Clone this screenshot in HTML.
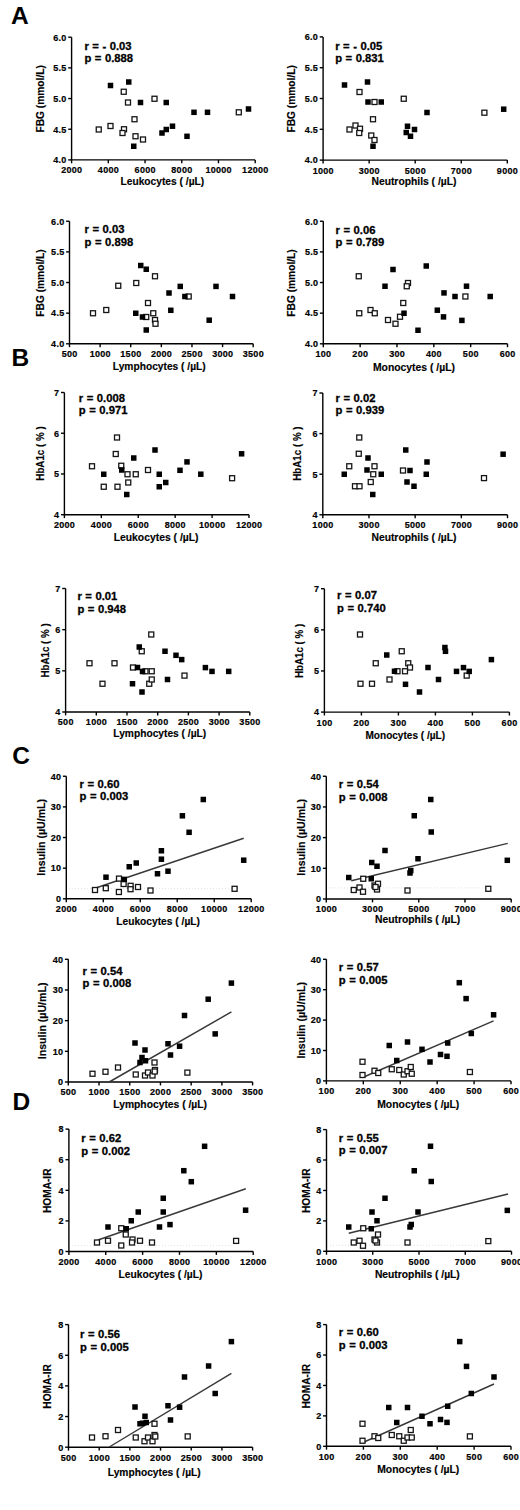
<!DOCTYPE html>
<html><head><meta charset="utf-8"><style>
html,body{margin:0;padding:0;background:#fff;width:520px;height:1510px;overflow:hidden}
svg{display:block}
text{font-family:"Liberation Sans",sans-serif;font-weight:bold;fill:#000}
.t{font-size:9.4px;letter-spacing:0.3px;stroke:#000;stroke-width:0.2px}
.ti{font-size:10.3px;stroke:#000;stroke-width:0.15px}
.r{font-size:11.25px;word-spacing:0.4px;stroke:#000;stroke-width:0.3px}
.L{font-size:24.5px}
</style></head><body>
<svg width="520" height="1510" viewBox="0 0 520 1510">
<g><path d="M71.6 37.2V159.9H255.2" fill="none" stroke="#000" stroke-width="1.4"/><line x1="68.2" y1="159.9" x2="71.6" y2="159.9" stroke="#000" stroke-width="1.4"/><text transform="translate(66.6,163.2) scale(0.96,1)" class="t" text-anchor="end">4.0</text><line x1="68.2" y1="129.22" x2="71.6" y2="129.22" stroke="#000" stroke-width="1.4"/><text transform="translate(66.6,132.53) scale(0.96,1)" class="t" text-anchor="end">4.5</text><line x1="68.2" y1="98.55" x2="71.6" y2="98.55" stroke="#000" stroke-width="1.4"/><text transform="translate(66.6,101.85) scale(0.96,1)" class="t" text-anchor="end">5.0</text><line x1="68.2" y1="67.88" x2="71.6" y2="67.88" stroke="#000" stroke-width="1.4"/><text transform="translate(66.6,71.17) scale(0.96,1)" class="t" text-anchor="end">5.5</text><line x1="68.2" y1="37.2" x2="71.6" y2="37.2" stroke="#000" stroke-width="1.4"/><text transform="translate(66.6,40.5) scale(0.96,1)" class="t" text-anchor="end">6.0</text><line x1="71.6" y1="159.9" x2="71.6" y2="163.3" stroke="#000" stroke-width="1.4"/><text transform="translate(71.75,173.3) scale(0.96,1)" class="t" text-anchor="middle">2000</text><line x1="108.32" y1="159.9" x2="108.32" y2="163.3" stroke="#000" stroke-width="1.4"/><text transform="translate(108.47,173.3) scale(0.96,1)" class="t" text-anchor="middle">4000</text><line x1="145.04" y1="159.9" x2="145.04" y2="163.3" stroke="#000" stroke-width="1.4"/><text transform="translate(145.19,173.3) scale(0.96,1)" class="t" text-anchor="middle">6000</text><line x1="181.76" y1="159.9" x2="181.76" y2="163.3" stroke="#000" stroke-width="1.4"/><text transform="translate(181.91,173.3) scale(0.96,1)" class="t" text-anchor="middle">8000</text><line x1="218.48" y1="159.9" x2="218.48" y2="163.3" stroke="#000" stroke-width="1.4"/><text transform="translate(218.63,173.3) scale(0.96,1)" class="t" text-anchor="middle">10000</text><line x1="255.2" y1="159.9" x2="255.2" y2="163.3" stroke="#000" stroke-width="1.4"/><text transform="translate(255.35,173.3) scale(0.96,1)" class="t" text-anchor="middle">12000</text><text transform="translate(43.85,98.8) rotate(-90) scale(0.99,1)" class="ti" text-anchor="middle">FBG (mmol/L)</text><text transform="translate(162.35,185) scale(0.994,1)" class="ti" text-anchor="middle">Leukocytes ( /µL)</text><text transform="translate(84.4,49.5) scale(1.0,1)" class="r">r = - 0.03</text><text transform="translate(84.4,62.3) scale(1.0,1)" class="r">p = 0.888</text><rect x="121.25" y="89.25" width="5" height="5" fill="#fff" stroke="#151515" stroke-width="1.3"/><rect x="125.5" y="100" width="5" height="5" fill="#fff" stroke="#151515" stroke-width="1.3"/><rect x="152" y="96.25" width="5" height="5" fill="#fff" stroke="#151515" stroke-width="1.3"/><rect x="132" y="116.75" width="5" height="5" fill="#fff" stroke="#151515" stroke-width="1.3"/><rect x="108" y="123.5" width="5" height="5" fill="#fff" stroke="#151515" stroke-width="1.3"/><rect x="96.25" y="127" width="5" height="5" fill="#fff" stroke="#151515" stroke-width="1.3"/><rect x="121.5" y="126.75" width="5" height="5" fill="#fff" stroke="#151515" stroke-width="1.3"/><rect x="120" y="130.5" width="5" height="5" fill="#fff" stroke="#151515" stroke-width="1.3"/><rect x="133" y="133.75" width="5" height="5" fill="#fff" stroke="#151515" stroke-width="1.3"/><rect x="140.5" y="137" width="5" height="5" fill="#fff" stroke="#151515" stroke-width="1.3"/><rect x="236.3" y="109.8" width="5" height="5" fill="#fff" stroke="#151515" stroke-width="1.3"/><rect x="107.75" y="82.75" width="5.5" height="5.5" fill="#000"/><rect x="126" y="79.25" width="5.5" height="5.5" fill="#000"/><rect x="137.75" y="99.75" width="5.5" height="5.5" fill="#000"/><rect x="163.5" y="99.75" width="5.5" height="5.5" fill="#000"/><rect x="169.75" y="123.45" width="5.5" height="5.5" fill="#000"/><rect x="163.5" y="126.75" width="5.5" height="5.5" fill="#000"/><rect x="159.25" y="130.25" width="5.5" height="5.5" fill="#000"/><rect x="131" y="143.5" width="5.5" height="5.5" fill="#000"/><rect x="184.25" y="133.55" width="5.5" height="5.5" fill="#000"/><rect x="191.25" y="109.55" width="5.5" height="5.5" fill="#000"/><rect x="204.75" y="109.55" width="5.5" height="5.5" fill="#000"/><rect x="245.75" y="106.25" width="5.5" height="5.5" fill="#000"/></g>
<g><path d="M323.1 36.9V160.1H507.3" fill="none" stroke="#000" stroke-width="1.4"/><line x1="319.7" y1="160.1" x2="323.1" y2="160.1" stroke="#000" stroke-width="1.4"/><text transform="translate(318.1,163.4) scale(0.96,1)" class="t" text-anchor="end">4.0</text><line x1="319.7" y1="129.3" x2="323.1" y2="129.3" stroke="#000" stroke-width="1.4"/><text transform="translate(318.1,132.6) scale(0.96,1)" class="t" text-anchor="end">4.5</text><line x1="319.7" y1="98.5" x2="323.1" y2="98.5" stroke="#000" stroke-width="1.4"/><text transform="translate(318.1,101.8) scale(0.96,1)" class="t" text-anchor="end">5.0</text><line x1="319.7" y1="67.7" x2="323.1" y2="67.7" stroke="#000" stroke-width="1.4"/><text transform="translate(318.1,71) scale(0.96,1)" class="t" text-anchor="end">5.5</text><line x1="319.7" y1="36.9" x2="323.1" y2="36.9" stroke="#000" stroke-width="1.4"/><text transform="translate(318.1,40.2) scale(0.96,1)" class="t" text-anchor="end">6.0</text><line x1="323.1" y1="160.1" x2="323.1" y2="163.5" stroke="#000" stroke-width="1.4"/><text transform="translate(323.25,173.5) scale(0.96,1)" class="t" text-anchor="middle">1000</text><line x1="369.15" y1="160.1" x2="369.15" y2="163.5" stroke="#000" stroke-width="1.4"/><text transform="translate(369.3,173.5) scale(0.96,1)" class="t" text-anchor="middle">3000</text><line x1="415.2" y1="160.1" x2="415.2" y2="163.5" stroke="#000" stroke-width="1.4"/><text transform="translate(415.35,173.5) scale(0.96,1)" class="t" text-anchor="middle">5000</text><line x1="461.25" y1="160.1" x2="461.25" y2="163.5" stroke="#000" stroke-width="1.4"/><text transform="translate(461.4,173.5) scale(0.96,1)" class="t" text-anchor="middle">7000</text><line x1="507.3" y1="160.1" x2="507.3" y2="163.5" stroke="#000" stroke-width="1.4"/><text transform="translate(507.45,173.5) scale(0.96,1)" class="t" text-anchor="middle">9000</text><text transform="translate(295.45,98.8) rotate(-90) scale(0.99,1)" class="ti" text-anchor="middle">FBG (mmol/L)</text><text transform="translate(413.95,184.5) scale(1.003,1)" class="ti" text-anchor="middle">Neutrophils ( /µL)</text><text transform="translate(335.2,49.5) scale(1.0,1)" class="r">r = - 0.05</text><text transform="translate(335.2,62.3) scale(1.0,1)" class="r">p = 0.831</text><rect x="357" y="89.5" width="5" height="5" fill="#fff" stroke="#151515" stroke-width="1.3"/><rect x="372" y="99.5" width="5" height="5" fill="#fff" stroke="#151515" stroke-width="1.3"/><rect x="401.25" y="96.25" width="5" height="5" fill="#fff" stroke="#151515" stroke-width="1.3"/><rect x="370.5" y="116.75" width="5" height="5" fill="#fff" stroke="#151515" stroke-width="1.3"/><rect x="347" y="127" width="5" height="5" fill="#fff" stroke="#151515" stroke-width="1.3"/><rect x="353" y="123" width="5" height="5" fill="#fff" stroke="#151515" stroke-width="1.3"/><rect x="357.5" y="126.25" width="5" height="5" fill="#fff" stroke="#151515" stroke-width="1.3"/><rect x="356.75" y="130.5" width="5" height="5" fill="#fff" stroke="#151515" stroke-width="1.3"/><rect x="368.75" y="133" width="5" height="5" fill="#fff" stroke="#151515" stroke-width="1.3"/><rect x="372" y="137.5" width="5" height="5" fill="#fff" stroke="#151515" stroke-width="1.3"/><rect x="481.9" y="110.2" width="5" height="5" fill="#fff" stroke="#151515" stroke-width="1.3"/><rect x="341.75" y="82.25" width="5.5" height="5.5" fill="#000"/><rect x="364.75" y="79.25" width="5.5" height="5.5" fill="#000"/><rect x="365.25" y="99.25" width="5.5" height="5.5" fill="#000"/><rect x="378.5" y="99.25" width="5.5" height="5.5" fill="#000"/><rect x="424.25" y="109.75" width="5.5" height="5.5" fill="#000"/><rect x="404.75" y="123.5" width="5.5" height="5.5" fill="#000"/><rect x="411.75" y="126.75" width="5.5" height="5.5" fill="#000"/><rect x="403.5" y="129.75" width="5.5" height="5.5" fill="#000"/><rect x="407.75" y="133.5" width="5.5" height="5.5" fill="#000"/><rect x="370.25" y="143.5" width="5.5" height="5.5" fill="#000"/><rect x="500.95" y="106.45" width="5.5" height="5.5" fill="#000"/></g>
<g><path d="M69.5 221.25V343.8H253.2" fill="none" stroke="#000" stroke-width="1.4"/><line x1="66.1" y1="343.8" x2="69.5" y2="343.8" stroke="#000" stroke-width="1.4"/><text transform="translate(64.5,347.1) scale(0.96,1)" class="t" text-anchor="end">4.0</text><line x1="66.1" y1="313.16" x2="69.5" y2="313.16" stroke="#000" stroke-width="1.4"/><text transform="translate(64.5,316.46) scale(0.96,1)" class="t" text-anchor="end">4.5</text><line x1="66.1" y1="282.52" x2="69.5" y2="282.52" stroke="#000" stroke-width="1.4"/><text transform="translate(64.5,285.82) scale(0.96,1)" class="t" text-anchor="end">5.0</text><line x1="66.1" y1="251.89" x2="69.5" y2="251.89" stroke="#000" stroke-width="1.4"/><text transform="translate(64.5,255.19) scale(0.96,1)" class="t" text-anchor="end">5.5</text><line x1="66.1" y1="221.25" x2="69.5" y2="221.25" stroke="#000" stroke-width="1.4"/><text transform="translate(64.5,224.55) scale(0.96,1)" class="t" text-anchor="end">6.0</text><line x1="69.5" y1="343.8" x2="69.5" y2="347.2" stroke="#000" stroke-width="1.4"/><text transform="translate(69.65,357.2) scale(0.96,1)" class="t" text-anchor="middle">500</text><line x1="100.12" y1="343.8" x2="100.12" y2="347.2" stroke="#000" stroke-width="1.4"/><text transform="translate(100.27,357.2) scale(0.96,1)" class="t" text-anchor="middle">1000</text><line x1="130.73" y1="343.8" x2="130.73" y2="347.2" stroke="#000" stroke-width="1.4"/><text transform="translate(130.88,357.2) scale(0.96,1)" class="t" text-anchor="middle">1500</text><line x1="161.35" y1="343.8" x2="161.35" y2="347.2" stroke="#000" stroke-width="1.4"/><text transform="translate(161.5,357.2) scale(0.96,1)" class="t" text-anchor="middle">2000</text><line x1="191.97" y1="343.8" x2="191.97" y2="347.2" stroke="#000" stroke-width="1.4"/><text transform="translate(192.12,357.2) scale(0.96,1)" class="t" text-anchor="middle">2500</text><line x1="222.58" y1="343.8" x2="222.58" y2="347.2" stroke="#000" stroke-width="1.4"/><text transform="translate(222.73,357.2) scale(0.96,1)" class="t" text-anchor="middle">3000</text><line x1="253.2" y1="343.8" x2="253.2" y2="347.2" stroke="#000" stroke-width="1.4"/><text transform="translate(253.35,357.2) scale(0.96,1)" class="t" text-anchor="middle">3500</text><text transform="translate(43.55,283) rotate(-90) scale(0.99,1)" class="ti" text-anchor="middle">FBG (mmol/L)</text><text transform="translate(159.25,370) scale(0.992,1)" class="ti" text-anchor="middle">Lymphocytes ( /µL)</text><text transform="translate(84.5,233) scale(1.0,1)" class="r">r = 0.03</text><text transform="translate(84.5,245.8) scale(1.0,1)" class="r">p = 0.898</text><rect x="152.5" y="273.75" width="5" height="5" fill="#fff" stroke="#151515" stroke-width="1.3"/><rect x="133.75" y="280.5" width="5" height="5" fill="#fff" stroke="#151515" stroke-width="1.3"/><rect x="115.75" y="283.25" width="5" height="5" fill="#fff" stroke="#151515" stroke-width="1.3"/><rect x="145.5" y="300.5" width="5" height="5" fill="#fff" stroke="#151515" stroke-width="1.3"/><rect x="103.75" y="307.5" width="5" height="5" fill="#fff" stroke="#151515" stroke-width="1.3"/><rect x="90.5" y="310.75" width="5" height="5" fill="#fff" stroke="#151515" stroke-width="1.3"/><rect x="143.75" y="314.5" width="5" height="5" fill="#fff" stroke="#151515" stroke-width="1.3"/><rect x="150.75" y="310.75" width="5" height="5" fill="#fff" stroke="#151515" stroke-width="1.3"/><rect x="152.5" y="317.5" width="5" height="5" fill="#fff" stroke="#151515" stroke-width="1.3"/><rect x="153" y="321.25" width="5" height="5" fill="#fff" stroke="#151515" stroke-width="1.3"/><rect x="186.2" y="294" width="5" height="5" fill="#fff" stroke="#151515" stroke-width="1.3"/><rect x="138" y="262.75" width="5.5" height="5.5" fill="#000"/><rect x="143.5" y="266.5" width="5.5" height="5.5" fill="#000"/><rect x="166.25" y="290.25" width="5.5" height="5.5" fill="#000"/><rect x="133" y="310.5" width="5.5" height="5.5" fill="#000"/><rect x="139.75" y="314.25" width="5.5" height="5.5" fill="#000"/><rect x="143.5" y="327.25" width="5.5" height="5.5" fill="#000"/><rect x="168.05" y="307.55" width="5.5" height="5.5" fill="#000"/><rect x="177.5" y="283.65" width="5.5" height="5.5" fill="#000"/><rect x="213.25" y="283.65" width="5.5" height="5.5" fill="#000"/><rect x="182.15" y="293.75" width="5.5" height="5.5" fill="#000"/><rect x="229.75" y="293.75" width="5.5" height="5.5" fill="#000"/><rect x="206.45" y="317.45" width="5.5" height="5.5" fill="#000"/></g>
<g><path d="M323.3 221.25V343.8H507.5" fill="none" stroke="#000" stroke-width="1.4"/><line x1="319.9" y1="343.8" x2="323.3" y2="343.8" stroke="#000" stroke-width="1.4"/><text transform="translate(318.3,347.1) scale(0.96,1)" class="t" text-anchor="end">4.0</text><line x1="319.9" y1="313.16" x2="323.3" y2="313.16" stroke="#000" stroke-width="1.4"/><text transform="translate(318.3,316.46) scale(0.96,1)" class="t" text-anchor="end">4.5</text><line x1="319.9" y1="282.52" x2="323.3" y2="282.52" stroke="#000" stroke-width="1.4"/><text transform="translate(318.3,285.82) scale(0.96,1)" class="t" text-anchor="end">5.0</text><line x1="319.9" y1="251.89" x2="323.3" y2="251.89" stroke="#000" stroke-width="1.4"/><text transform="translate(318.3,255.19) scale(0.96,1)" class="t" text-anchor="end">5.5</text><line x1="319.9" y1="221.25" x2="323.3" y2="221.25" stroke="#000" stroke-width="1.4"/><text transform="translate(318.3,224.55) scale(0.96,1)" class="t" text-anchor="end">6.0</text><line x1="323.3" y1="343.8" x2="323.3" y2="347.2" stroke="#000" stroke-width="1.4"/><text transform="translate(323.45,357.2) scale(0.96,1)" class="t" text-anchor="middle">100</text><line x1="360.14" y1="343.8" x2="360.14" y2="347.2" stroke="#000" stroke-width="1.4"/><text transform="translate(360.29,357.2) scale(0.96,1)" class="t" text-anchor="middle">200</text><line x1="396.98" y1="343.8" x2="396.98" y2="347.2" stroke="#000" stroke-width="1.4"/><text transform="translate(397.13,357.2) scale(0.96,1)" class="t" text-anchor="middle">300</text><line x1="433.82" y1="343.8" x2="433.82" y2="347.2" stroke="#000" stroke-width="1.4"/><text transform="translate(433.97,357.2) scale(0.96,1)" class="t" text-anchor="middle">400</text><line x1="470.66" y1="343.8" x2="470.66" y2="347.2" stroke="#000" stroke-width="1.4"/><text transform="translate(470.81,357.2) scale(0.96,1)" class="t" text-anchor="middle">500</text><line x1="507.5" y1="343.8" x2="507.5" y2="347.2" stroke="#000" stroke-width="1.4"/><text transform="translate(507.65,357.2) scale(0.96,1)" class="t" text-anchor="middle">600</text><text transform="translate(295.25,283) rotate(-90) scale(0.99,1)" class="ti" text-anchor="middle">FBG (mmol/L)</text><text transform="translate(413.95,370.6) scale(1.009,1)" class="ti" text-anchor="middle">Monocytes ( /µL)</text><text transform="translate(335.6,233.5) scale(1.0,1)" class="r">r = 0.06</text><text transform="translate(335.6,246.3) scale(1.0,1)" class="r">p = 0.789</text><rect x="356.25" y="273.75" width="5" height="5" fill="#fff" stroke="#151515" stroke-width="1.3"/><rect x="405.5" y="280.5" width="5" height="5" fill="#fff" stroke="#151515" stroke-width="1.3"/><rect x="404.25" y="283.75" width="5" height="5" fill="#fff" stroke="#151515" stroke-width="1.3"/><rect x="400.75" y="300.5" width="5" height="5" fill="#fff" stroke="#151515" stroke-width="1.3"/><rect x="356.75" y="310.75" width="5" height="5" fill="#fff" stroke="#151515" stroke-width="1.3"/><rect x="368" y="307.5" width="5" height="5" fill="#fff" stroke="#151515" stroke-width="1.3"/><rect x="372.25" y="310.75" width="5" height="5" fill="#fff" stroke="#151515" stroke-width="1.3"/><rect x="385.5" y="317.5" width="5" height="5" fill="#fff" stroke="#151515" stroke-width="1.3"/><rect x="393" y="321.25" width="5" height="5" fill="#fff" stroke="#151515" stroke-width="1.3"/><rect x="397.5" y="314.25" width="5" height="5" fill="#fff" stroke="#151515" stroke-width="1.3"/><rect x="462.9" y="294" width="5" height="5" fill="#fff" stroke="#151515" stroke-width="1.3"/><rect x="390.25" y="266.75" width="5.5" height="5.5" fill="#000"/><rect x="423.5" y="263.25" width="5.5" height="5.5" fill="#000"/><rect x="382.25" y="283.5" width="5.5" height="5.5" fill="#000"/><rect x="401.25" y="310.5" width="5.5" height="5.5" fill="#000"/><rect x="415.25" y="327.5" width="5.5" height="5.5" fill="#000"/><rect x="434.55" y="307.45" width="5.5" height="5.5" fill="#000"/><rect x="463.75" y="283.45" width="5.5" height="5.5" fill="#000"/><rect x="441.25" y="290.15" width="5.5" height="5.5" fill="#000"/><rect x="452.25" y="293.75" width="5.5" height="5.5" fill="#000"/><rect x="487.45" y="293.75" width="5.5" height="5.5" fill="#000"/><rect x="440.75" y="314.15" width="5.5" height="5.5" fill="#000"/><rect x="459.15" y="317.65" width="5.5" height="5.5" fill="#000"/></g>
<g><path d="M64.4 392.5V514.7H249" fill="none" stroke="#000" stroke-width="1.4"/><line x1="61" y1="514.7" x2="64.4" y2="514.7" stroke="#000" stroke-width="1.4"/><text transform="translate(59.4,518) scale(0.96,1)" class="t" text-anchor="end">4</text><line x1="61" y1="473.97" x2="64.4" y2="473.97" stroke="#000" stroke-width="1.4"/><text transform="translate(59.4,477.27) scale(0.96,1)" class="t" text-anchor="end">5</text><line x1="61" y1="433.23" x2="64.4" y2="433.23" stroke="#000" stroke-width="1.4"/><text transform="translate(59.4,436.53) scale(0.96,1)" class="t" text-anchor="end">6</text><line x1="61" y1="392.5" x2="64.4" y2="392.5" stroke="#000" stroke-width="1.4"/><text transform="translate(59.4,395.8) scale(0.96,1)" class="t" text-anchor="end">7</text><line x1="64.4" y1="514.7" x2="64.4" y2="518.1" stroke="#000" stroke-width="1.4"/><text transform="translate(64.55,528.1) scale(0.96,1)" class="t" text-anchor="middle">2000</text><line x1="101.32" y1="514.7" x2="101.32" y2="518.1" stroke="#000" stroke-width="1.4"/><text transform="translate(101.47,528.1) scale(0.96,1)" class="t" text-anchor="middle">4000</text><line x1="138.24" y1="514.7" x2="138.24" y2="518.1" stroke="#000" stroke-width="1.4"/><text transform="translate(138.39,528.1) scale(0.96,1)" class="t" text-anchor="middle">6000</text><line x1="175.16" y1="514.7" x2="175.16" y2="518.1" stroke="#000" stroke-width="1.4"/><text transform="translate(175.31,528.1) scale(0.96,1)" class="t" text-anchor="middle">8000</text><line x1="212.08" y1="514.7" x2="212.08" y2="518.1" stroke="#000" stroke-width="1.4"/><text transform="translate(212.23,528.1) scale(0.96,1)" class="t" text-anchor="middle">10000</text><line x1="249" y1="514.7" x2="249" y2="518.1" stroke="#000" stroke-width="1.4"/><text transform="translate(249.15,528.1) scale(0.96,1)" class="t" text-anchor="middle">12000</text><text transform="translate(43.55,453.5) rotate(-90) scale(0.95,1)" class="ti" text-anchor="middle">HbA1c ( % )</text><text transform="translate(156.1,541.3) scale(1.006,1)" class="ti" text-anchor="middle">Leukocytes ( /µL)</text><text transform="translate(78.75,401.5) scale(1.0,1)" class="r">r = 0.008</text><text transform="translate(78.75,414.3) scale(1.0,1)" class="r">p = 0.971</text><rect x="114.5" y="435" width="5" height="5" fill="#fff" stroke="#151515" stroke-width="1.3"/><rect x="113.25" y="451.5" width="5" height="5" fill="#fff" stroke="#151515" stroke-width="1.3"/><rect x="89.5" y="463.75" width="5" height="5" fill="#fff" stroke="#151515" stroke-width="1.3"/><rect x="118.75" y="463.25" width="5" height="5" fill="#fff" stroke="#151515" stroke-width="1.3"/><rect x="125" y="471.75" width="5" height="5" fill="#fff" stroke="#151515" stroke-width="1.3"/><rect x="133.25" y="471.75" width="5" height="5" fill="#fff" stroke="#151515" stroke-width="1.3"/><rect x="145.5" y="467.5" width="5" height="5" fill="#fff" stroke="#151515" stroke-width="1.3"/><rect x="101.25" y="484.25" width="5" height="5" fill="#fff" stroke="#151515" stroke-width="1.3"/><rect x="115" y="484.25" width="5" height="5" fill="#fff" stroke="#151515" stroke-width="1.3"/><rect x="125.75" y="480" width="5" height="5" fill="#fff" stroke="#151515" stroke-width="1.3"/><rect x="229.6" y="475.7" width="5" height="5" fill="#fff" stroke="#151515" stroke-width="1.3"/><rect x="131" y="455.25" width="5.5" height="5.5" fill="#000"/><rect x="152.25" y="447.25" width="5.5" height="5.5" fill="#000"/><rect x="101" y="471.5" width="5.5" height="5.5" fill="#000"/><rect x="119" y="467.25" width="5.5" height="5.5" fill="#000"/><rect x="156.5" y="471.5" width="5.5" height="5.5" fill="#000"/><rect x="156.5" y="484" width="5.5" height="5.5" fill="#000"/><rect x="163" y="479.75" width="5.5" height="5.5" fill="#000"/><rect x="124" y="491.75" width="5.5" height="5.5" fill="#000"/><rect x="238.85" y="451.05" width="5.5" height="5.5" fill="#000"/><rect x="184.25" y="459.15" width="5.5" height="5.5" fill="#000"/><rect x="177.25" y="467.55" width="5.5" height="5.5" fill="#000"/><rect x="198.05" y="471.45" width="5.5" height="5.5" fill="#000"/></g>
<g><path d="M322.8 393V514.8H507.5" fill="none" stroke="#000" stroke-width="1.4"/><line x1="319.4" y1="514.8" x2="322.8" y2="514.8" stroke="#000" stroke-width="1.4"/><text transform="translate(317.8,518.1) scale(0.96,1)" class="t" text-anchor="end">4</text><line x1="319.4" y1="474.2" x2="322.8" y2="474.2" stroke="#000" stroke-width="1.4"/><text transform="translate(317.8,477.5) scale(0.96,1)" class="t" text-anchor="end">5</text><line x1="319.4" y1="433.6" x2="322.8" y2="433.6" stroke="#000" stroke-width="1.4"/><text transform="translate(317.8,436.9) scale(0.96,1)" class="t" text-anchor="end">6</text><line x1="319.4" y1="393" x2="322.8" y2="393" stroke="#000" stroke-width="1.4"/><text transform="translate(317.8,396.3) scale(0.96,1)" class="t" text-anchor="end">7</text><line x1="322.8" y1="514.8" x2="322.8" y2="518.2" stroke="#000" stroke-width="1.4"/><text transform="translate(322.95,528.2) scale(0.96,1)" class="t" text-anchor="middle">1000</text><line x1="368.98" y1="514.8" x2="368.98" y2="518.2" stroke="#000" stroke-width="1.4"/><text transform="translate(369.12,528.2) scale(0.96,1)" class="t" text-anchor="middle">3000</text><line x1="415.15" y1="514.8" x2="415.15" y2="518.2" stroke="#000" stroke-width="1.4"/><text transform="translate(415.3,528.2) scale(0.96,1)" class="t" text-anchor="middle">5000</text><line x1="461.33" y1="514.8" x2="461.33" y2="518.2" stroke="#000" stroke-width="1.4"/><text transform="translate(461.48,528.2) scale(0.96,1)" class="t" text-anchor="middle">7000</text><line x1="507.5" y1="514.8" x2="507.5" y2="518.2" stroke="#000" stroke-width="1.4"/><text transform="translate(507.65,528.2) scale(0.96,1)" class="t" text-anchor="middle">9000</text><text transform="translate(301.05,453.6) rotate(-90) scale(0.95,1)" class="ti" text-anchor="middle">HbA1c ( % )</text><text transform="translate(413.95,541) scale(1.003,1)" class="ti" text-anchor="middle">Neutrophils ( /µL)</text><text transform="translate(335.6,401.5) scale(1.0,1)" class="r">r = 0.02</text><text transform="translate(335.6,414.3) scale(1.0,1)" class="r">p = 0.939</text><rect x="356.75" y="435" width="5" height="5" fill="#fff" stroke="#151515" stroke-width="1.3"/><rect x="356.25" y="451.25" width="5" height="5" fill="#fff" stroke="#151515" stroke-width="1.3"/><rect x="346.75" y="463.75" width="5" height="5" fill="#fff" stroke="#151515" stroke-width="1.3"/><rect x="372" y="463.75" width="5" height="5" fill="#fff" stroke="#151515" stroke-width="1.3"/><rect x="370.75" y="471.75" width="5" height="5" fill="#fff" stroke="#151515" stroke-width="1.3"/><rect x="368.25" y="479.5" width="5" height="5" fill="#fff" stroke="#151515" stroke-width="1.3"/><rect x="352.5" y="483.75" width="5" height="5" fill="#fff" stroke="#151515" stroke-width="1.3"/><rect x="357" y="483.75" width="5" height="5" fill="#fff" stroke="#151515" stroke-width="1.3"/><rect x="400.5" y="468" width="5" height="5" fill="#fff" stroke="#151515" stroke-width="1.3"/><rect x="481.5" y="475.6" width="5" height="5" fill="#fff" stroke="#151515" stroke-width="1.3"/><rect x="365.25" y="455.25" width="5.5" height="5.5" fill="#000"/><rect x="341.5" y="471.5" width="5.5" height="5.5" fill="#000"/><rect x="364.25" y="467.25" width="5.5" height="5.5" fill="#000"/><rect x="378.5" y="471.5" width="5.5" height="5.5" fill="#000"/><rect x="370" y="491.75" width="5.5" height="5.5" fill="#000"/><rect x="403" y="447.25" width="5.5" height="5.5" fill="#000"/><rect x="407.25" y="467.75" width="5.5" height="5.5" fill="#000"/><rect x="404.25" y="479.25" width="5.5" height="5.5" fill="#000"/><rect x="411.25" y="483.5" width="5.5" height="5.5" fill="#000"/><rect x="424.25" y="459.25" width="5.5" height="5.5" fill="#000"/><rect x="423.5" y="471.5" width="5.5" height="5.5" fill="#000"/><rect x="500.35" y="451.45" width="5.5" height="5.5" fill="#000"/></g>
<g><path d="M65.6 588.5V712H249.8" fill="none" stroke="#000" stroke-width="1.4"/><line x1="62.2" y1="712" x2="65.6" y2="712" stroke="#000" stroke-width="1.4"/><text transform="translate(60.6,715.3) scale(0.96,1)" class="t" text-anchor="end">4</text><line x1="62.2" y1="670.83" x2="65.6" y2="670.83" stroke="#000" stroke-width="1.4"/><text transform="translate(60.6,674.13) scale(0.96,1)" class="t" text-anchor="end">5</text><line x1="62.2" y1="629.67" x2="65.6" y2="629.67" stroke="#000" stroke-width="1.4"/><text transform="translate(60.6,632.97) scale(0.96,1)" class="t" text-anchor="end">6</text><line x1="62.2" y1="588.5" x2="65.6" y2="588.5" stroke="#000" stroke-width="1.4"/><text transform="translate(60.6,591.8) scale(0.96,1)" class="t" text-anchor="end">7</text><line x1="65.6" y1="712" x2="65.6" y2="715.4" stroke="#000" stroke-width="1.4"/><text transform="translate(65.75,725.4) scale(0.96,1)" class="t" text-anchor="middle">500</text><line x1="96.3" y1="712" x2="96.3" y2="715.4" stroke="#000" stroke-width="1.4"/><text transform="translate(96.45,725.4) scale(0.96,1)" class="t" text-anchor="middle">1000</text><line x1="127" y1="712" x2="127" y2="715.4" stroke="#000" stroke-width="1.4"/><text transform="translate(127.15,725.4) scale(0.96,1)" class="t" text-anchor="middle">1500</text><line x1="157.7" y1="712" x2="157.7" y2="715.4" stroke="#000" stroke-width="1.4"/><text transform="translate(157.85,725.4) scale(0.96,1)" class="t" text-anchor="middle">2000</text><line x1="188.4" y1="712" x2="188.4" y2="715.4" stroke="#000" stroke-width="1.4"/><text transform="translate(188.55,725.4) scale(0.96,1)" class="t" text-anchor="middle">2500</text><line x1="219.1" y1="712" x2="219.1" y2="715.4" stroke="#000" stroke-width="1.4"/><text transform="translate(219.25,725.4) scale(0.96,1)" class="t" text-anchor="middle">3000</text><line x1="249.8" y1="712" x2="249.8" y2="715.4" stroke="#000" stroke-width="1.4"/><text transform="translate(249.95,725.4) scale(0.96,1)" class="t" text-anchor="middle">3500</text><text transform="translate(49,650.4) rotate(-90) scale(0.95,1)" class="ti" text-anchor="middle">HbA1c ( % )</text><text transform="translate(159.75,737) scale(0.992,1)" class="ti" text-anchor="middle">Lymphocytes ( /µL)</text><text transform="translate(77.4,600) scale(1.0,1)" class="r">r = 0.01</text><text transform="translate(77.4,612.8) scale(1.0,1)" class="r">p = 0.948</text><rect x="148.75" y="632" width="5" height="5" fill="#fff" stroke="#151515" stroke-width="1.3"/><rect x="139.25" y="648.75" width="5" height="5" fill="#fff" stroke="#151515" stroke-width="1.3"/><rect x="87" y="660.75" width="5" height="5" fill="#fff" stroke="#151515" stroke-width="1.3"/><rect x="112" y="660.75" width="5" height="5" fill="#fff" stroke="#151515" stroke-width="1.3"/><rect x="130.5" y="665" width="5" height="5" fill="#fff" stroke="#151515" stroke-width="1.3"/><rect x="143" y="668.75" width="5" height="5" fill="#fff" stroke="#151515" stroke-width="1.3"/><rect x="149.25" y="668.75" width="5" height="5" fill="#fff" stroke="#151515" stroke-width="1.3"/><rect x="100" y="681.25" width="5" height="5" fill="#fff" stroke="#151515" stroke-width="1.3"/><rect x="146.75" y="681.25" width="5" height="5" fill="#fff" stroke="#151515" stroke-width="1.3"/><rect x="149.25" y="677" width="5" height="5" fill="#fff" stroke="#151515" stroke-width="1.3"/><rect x="182" y="673.1" width="5" height="5" fill="#fff" stroke="#151515" stroke-width="1.3"/><rect x="136.5" y="644.25" width="5.5" height="5.5" fill="#000"/><rect x="162.25" y="648.5" width="5.5" height="5.5" fill="#000"/><rect x="134.75" y="664.75" width="5.5" height="5.5" fill="#000"/><rect x="139.75" y="668.75" width="5.5" height="5.5" fill="#000"/><rect x="164.75" y="676.75" width="5.5" height="5.5" fill="#000"/><rect x="129.75" y="681" width="5.5" height="5.5" fill="#000"/><rect x="139.25" y="689.25" width="5.5" height="5.5" fill="#000"/><rect x="173.25" y="652.55" width="5.5" height="5.5" fill="#000"/><rect x="178.95" y="656.85" width="5.5" height="5.5" fill="#000"/><rect x="202.65" y="664.85" width="5.5" height="5.5" fill="#000"/><rect x="209.25" y="668.65" width="5.5" height="5.5" fill="#000"/><rect x="225.95" y="668.65" width="5.5" height="5.5" fill="#000"/></g>
<g><path d="M324.4 588.7V712.1H509.4" fill="none" stroke="#000" stroke-width="1.4"/><line x1="321" y1="712.1" x2="324.4" y2="712.1" stroke="#000" stroke-width="1.4"/><text transform="translate(319.4,715.4) scale(0.96,1)" class="t" text-anchor="end">4</text><line x1="321" y1="670.97" x2="324.4" y2="670.97" stroke="#000" stroke-width="1.4"/><text transform="translate(319.4,674.27) scale(0.96,1)" class="t" text-anchor="end">5</text><line x1="321" y1="629.83" x2="324.4" y2="629.83" stroke="#000" stroke-width="1.4"/><text transform="translate(319.4,633.13) scale(0.96,1)" class="t" text-anchor="end">6</text><line x1="321" y1="588.7" x2="324.4" y2="588.7" stroke="#000" stroke-width="1.4"/><text transform="translate(319.4,592) scale(0.96,1)" class="t" text-anchor="end">7</text><line x1="324.4" y1="712.1" x2="324.4" y2="715.5" stroke="#000" stroke-width="1.4"/><text transform="translate(324.55,725.5) scale(0.96,1)" class="t" text-anchor="middle">100</text><line x1="361.4" y1="712.1" x2="361.4" y2="715.5" stroke="#000" stroke-width="1.4"/><text transform="translate(361.55,725.5) scale(0.96,1)" class="t" text-anchor="middle">200</text><line x1="398.4" y1="712.1" x2="398.4" y2="715.5" stroke="#000" stroke-width="1.4"/><text transform="translate(398.55,725.5) scale(0.96,1)" class="t" text-anchor="middle">300</text><line x1="435.4" y1="712.1" x2="435.4" y2="715.5" stroke="#000" stroke-width="1.4"/><text transform="translate(435.55,725.5) scale(0.96,1)" class="t" text-anchor="middle">400</text><line x1="472.4" y1="712.1" x2="472.4" y2="715.5" stroke="#000" stroke-width="1.4"/><text transform="translate(472.55,725.5) scale(0.96,1)" class="t" text-anchor="middle">500</text><line x1="509.4" y1="712.1" x2="509.4" y2="715.5" stroke="#000" stroke-width="1.4"/><text transform="translate(509.55,725.5) scale(0.96,1)" class="t" text-anchor="middle">600</text><text transform="translate(303.25,650.9) rotate(-90) scale(0.95,1)" class="ti" text-anchor="middle">HbA1c ( % )</text><text transform="translate(405.25,738.8) scale(0.978,1)" class="ti" text-anchor="middle">Monocytes ( /µL)</text><text transform="translate(337,599) scale(1.0,1)" class="r">r = 0.07</text><text transform="translate(337,611.8) scale(1.0,1)" class="r">p = 0.740</text><rect x="357.5" y="632" width="5" height="5" fill="#fff" stroke="#151515" stroke-width="1.3"/><rect x="399.25" y="648.75" width="5" height="5" fill="#fff" stroke="#151515" stroke-width="1.3"/><rect x="373.25" y="660.75" width="5" height="5" fill="#fff" stroke="#151515" stroke-width="1.3"/><rect x="405.75" y="660.75" width="5" height="5" fill="#fff" stroke="#151515" stroke-width="1.3"/><rect x="407.5" y="665" width="5" height="5" fill="#fff" stroke="#151515" stroke-width="1.3"/><rect x="395" y="668.75" width="5" height="5" fill="#fff" stroke="#151515" stroke-width="1.3"/><rect x="402.5" y="668.75" width="5" height="5" fill="#fff" stroke="#151515" stroke-width="1.3"/><rect x="358" y="681.25" width="5" height="5" fill="#fff" stroke="#151515" stroke-width="1.3"/><rect x="369.5" y="681.25" width="5" height="5" fill="#fff" stroke="#151515" stroke-width="1.3"/><rect x="387" y="677" width="5" height="5" fill="#fff" stroke="#151515" stroke-width="1.3"/><rect x="464.2" y="673.1" width="5" height="5" fill="#fff" stroke="#151515" stroke-width="1.3"/><rect x="384" y="652.25" width="5.5" height="5.5" fill="#000"/><rect x="391.75" y="668.5" width="5.5" height="5.5" fill="#000"/><rect x="425.25" y="664.75" width="5.5" height="5.5" fill="#000"/><rect x="435.75" y="676.75" width="5.5" height="5.5" fill="#000"/><rect x="402.75" y="681.55" width="5.5" height="5.5" fill="#000"/><rect x="416.75" y="689.25" width="5.5" height="5.5" fill="#000"/><rect x="442.15" y="644.75" width="5.5" height="5.5" fill="#000"/><rect x="442.75" y="648.55" width="5.5" height="5.5" fill="#000"/><rect x="488.65" y="656.85" width="5.5" height="5.5" fill="#000"/><rect x="460.75" y="664.85" width="5.5" height="5.5" fill="#000"/><rect x="453.75" y="668.65" width="5.5" height="5.5" fill="#000"/><rect x="466.45" y="668.65" width="5.5" height="5.5" fill="#000"/></g>
<g><line x1="69" y1="888.4" x2="240" y2="888.4" stroke="#e6e0e6" stroke-width="1" stroke-dasharray="1 2"/><path d="M66.3 776.25V898.8H251.2" fill="none" stroke="#000" stroke-width="1.4"/><line x1="62.9" y1="898.8" x2="66.3" y2="898.8" stroke="#000" stroke-width="1.4"/><text transform="translate(61.3,902.1) scale(0.96,1)" class="t" text-anchor="end">0</text><line x1="62.9" y1="868.16" x2="66.3" y2="868.16" stroke="#000" stroke-width="1.4"/><text transform="translate(61.3,871.46) scale(0.96,1)" class="t" text-anchor="end">10</text><line x1="62.9" y1="837.52" x2="66.3" y2="837.52" stroke="#000" stroke-width="1.4"/><text transform="translate(61.3,840.82) scale(0.96,1)" class="t" text-anchor="end">20</text><line x1="62.9" y1="806.89" x2="66.3" y2="806.89" stroke="#000" stroke-width="1.4"/><text transform="translate(61.3,810.19) scale(0.96,1)" class="t" text-anchor="end">30</text><line x1="62.9" y1="776.25" x2="66.3" y2="776.25" stroke="#000" stroke-width="1.4"/><text transform="translate(61.3,779.55) scale(0.96,1)" class="t" text-anchor="end">40</text><line x1="66.3" y1="898.8" x2="66.3" y2="902.2" stroke="#000" stroke-width="1.4"/><text transform="translate(66.45,912.2) scale(0.96,1)" class="t" text-anchor="middle">2000</text><line x1="103.28" y1="898.8" x2="103.28" y2="902.2" stroke="#000" stroke-width="1.4"/><text transform="translate(103.43,912.2) scale(0.96,1)" class="t" text-anchor="middle">4000</text><line x1="140.26" y1="898.8" x2="140.26" y2="902.2" stroke="#000" stroke-width="1.4"/><text transform="translate(140.41,912.2) scale(0.96,1)" class="t" text-anchor="middle">6000</text><line x1="177.24" y1="898.8" x2="177.24" y2="902.2" stroke="#000" stroke-width="1.4"/><text transform="translate(177.39,912.2) scale(0.96,1)" class="t" text-anchor="middle">8000</text><line x1="214.22" y1="898.8" x2="214.22" y2="902.2" stroke="#000" stroke-width="1.4"/><text transform="translate(214.37,912.2) scale(0.96,1)" class="t" text-anchor="middle">10000</text><line x1="251.2" y1="898.8" x2="251.2" y2="902.2" stroke="#000" stroke-width="1.4"/><text transform="translate(251.35,912.2) scale(0.96,1)" class="t" text-anchor="middle">12000</text><text transform="translate(44.55,837.3) rotate(-90) scale(1.03,1)" class="ti" text-anchor="middle">Insulin (µU/mL)</text><text transform="translate(158.1,925) scale(0.994,1)" class="ti" text-anchor="middle">Leukocytes ( /µL)</text><text transform="translate(79.5,787.5) scale(1.0,1)" class="r">r = 0.60</text><text transform="translate(79.5,800.3) scale(1.0,1)" class="r">p = 0.003</text><line x1="92" y1="889.3" x2="243.7" y2="838.2" stroke="#383838" stroke-width="1.45"/><rect x="116.5" y="876.1" width="5" height="5" fill="#fff" stroke="#151515" stroke-width="1.3"/><rect x="121.1" y="881.5" width="5" height="5" fill="#fff" stroke="#151515" stroke-width="1.3"/><rect x="92.5" y="887.5" width="5" height="5" fill="#fff" stroke="#151515" stroke-width="1.3"/><rect x="103.3" y="885.7" width="5" height="5" fill="#fff" stroke="#151515" stroke-width="1.3"/><rect x="116.4" y="889.5" width="5" height="5" fill="#fff" stroke="#151515" stroke-width="1.3"/><rect x="128.1" y="883.3" width="5" height="5" fill="#fff" stroke="#151515" stroke-width="1.3"/><rect x="128" y="886.7" width="5" height="5" fill="#fff" stroke="#151515" stroke-width="1.3"/><rect x="135.5" y="884.5" width="5" height="5" fill="#fff" stroke="#151515" stroke-width="1.3"/><rect x="148" y="888" width="5" height="5" fill="#fff" stroke="#151515" stroke-width="1.3"/><rect x="232.1" y="886.3" width="5" height="5" fill="#fff" stroke="#151515" stroke-width="1.3"/><rect x="103.25" y="874.45" width="5.5" height="5.5" fill="#000"/><rect x="126.5" y="864" width="5.5" height="5.5" fill="#000"/><rect x="133.5" y="860.25" width="5.5" height="5.5" fill="#000"/><rect x="121.55" y="876.65" width="5.5" height="5.5" fill="#000"/><rect x="154.75" y="871" width="5.5" height="5.5" fill="#000"/><rect x="158.65" y="848" width="5.5" height="5.5" fill="#000"/><rect x="158.65" y="856.45" width="5.5" height="5.5" fill="#000"/><rect x="165.25" y="868.45" width="5.5" height="5.5" fill="#000"/><rect x="200.55" y="796.75" width="5.5" height="5.5" fill="#000"/><rect x="179.65" y="813.05" width="5.5" height="5.5" fill="#000"/><rect x="186.35" y="829.55" width="5.5" height="5.5" fill="#000"/><rect x="240.95" y="857.45" width="5.5" height="5.5" fill="#000"/></g>
<g><line x1="329" y1="887.9" x2="484" y2="887.9" stroke="#e6e0e6" stroke-width="1" stroke-dasharray="1 2"/><path d="M326.3 776.25V899H511.2" fill="none" stroke="#000" stroke-width="1.4"/><line x1="322.9" y1="899" x2="326.3" y2="899" stroke="#000" stroke-width="1.4"/><text transform="translate(321.3,902.3) scale(0.96,1)" class="t" text-anchor="end">0</text><line x1="322.9" y1="868.31" x2="326.3" y2="868.31" stroke="#000" stroke-width="1.4"/><text transform="translate(321.3,871.61) scale(0.96,1)" class="t" text-anchor="end">10</text><line x1="322.9" y1="837.62" x2="326.3" y2="837.62" stroke="#000" stroke-width="1.4"/><text transform="translate(321.3,840.92) scale(0.96,1)" class="t" text-anchor="end">20</text><line x1="322.9" y1="806.94" x2="326.3" y2="806.94" stroke="#000" stroke-width="1.4"/><text transform="translate(321.3,810.24) scale(0.96,1)" class="t" text-anchor="end">30</text><line x1="322.9" y1="776.25" x2="326.3" y2="776.25" stroke="#000" stroke-width="1.4"/><text transform="translate(321.3,779.55) scale(0.96,1)" class="t" text-anchor="end">40</text><line x1="326.3" y1="899" x2="326.3" y2="902.4" stroke="#000" stroke-width="1.4"/><text transform="translate(326.45,912.4) scale(0.96,1)" class="t" text-anchor="middle">1000</text><line x1="372.52" y1="899" x2="372.52" y2="902.4" stroke="#000" stroke-width="1.4"/><text transform="translate(372.67,912.4) scale(0.96,1)" class="t" text-anchor="middle">3000</text><line x1="418.75" y1="899" x2="418.75" y2="902.4" stroke="#000" stroke-width="1.4"/><text transform="translate(418.9,912.4) scale(0.96,1)" class="t" text-anchor="middle">5000</text><line x1="464.98" y1="899" x2="464.98" y2="902.4" stroke="#000" stroke-width="1.4"/><text transform="translate(465.12,912.4) scale(0.96,1)" class="t" text-anchor="middle">7000</text><line x1="511.2" y1="899" x2="511.2" y2="902.4" stroke="#000" stroke-width="1.4"/><text transform="translate(511.35,912.4) scale(0.96,1)" class="t" text-anchor="middle">9000</text><text transform="translate(304.75,837.3) rotate(-90) scale(1.03,1)" class="ti" text-anchor="middle">Insulin (µU/mL)</text><text transform="translate(417.6,923) scale(1.006,1)" class="ti" text-anchor="middle">Neutrophils ( /µL)</text><text transform="translate(338.75,788) scale(1.0,1)" class="r">r = 0.54</text><text transform="translate(338.75,800.8) scale(1.0,1)" class="r">p = 0.008</text><line x1="351.3" y1="880.7" x2="507.7" y2="843.4" stroke="#383838" stroke-width="1.45"/><rect x="360.75" y="876.25" width="5" height="5" fill="#fff" stroke="#151515" stroke-width="1.3"/><rect x="351.25" y="887.5" width="5" height="5" fill="#fff" stroke="#151515" stroke-width="1.3"/><rect x="357" y="885" width="5" height="5" fill="#fff" stroke="#151515" stroke-width="1.3"/><rect x="360.5" y="889.25" width="5" height="5" fill="#fff" stroke="#151515" stroke-width="1.3"/><rect x="372" y="883" width="5" height="5" fill="#fff" stroke="#151515" stroke-width="1.3"/><rect x="375.5" y="881.25" width="5" height="5" fill="#fff" stroke="#151515" stroke-width="1.3"/><rect x="374.5" y="887" width="5" height="5" fill="#fff" stroke="#151515" stroke-width="1.3"/><rect x="373" y="884.5" width="5" height="5" fill="#fff" stroke="#151515" stroke-width="1.3"/><rect x="405" y="888" width="5" height="5" fill="#fff" stroke="#151515" stroke-width="1.3"/><rect x="485.8" y="886.3" width="5" height="5" fill="#fff" stroke="#151515" stroke-width="1.3"/><rect x="428" y="796.75" width="5.5" height="5.5" fill="#000"/><rect x="411.5" y="813" width="5.5" height="5.5" fill="#000"/><rect x="428.5" y="829.25" width="5.5" height="5.5" fill="#000"/><rect x="382.25" y="847.75" width="5.5" height="5.5" fill="#000"/><rect x="415.25" y="856" width="5.5" height="5.5" fill="#000"/><rect x="369" y="859.75" width="5.5" height="5.5" fill="#000"/><rect x="374.25" y="863.5" width="5.5" height="5.5" fill="#000"/><rect x="346" y="874.75" width="5.5" height="5.5" fill="#000"/><rect x="368.5" y="876" width="5.5" height="5.5" fill="#000"/><rect x="407.25" y="870.25" width="5.5" height="5.5" fill="#000"/><rect x="408" y="867.75" width="5.5" height="5.5" fill="#000"/><rect x="504.55" y="857.55" width="5.5" height="5.5" fill="#000"/></g>
<g><path d="M68.3 959.3V1082H252.6" fill="none" stroke="#000" stroke-width="1.4"/><line x1="64.9" y1="1082" x2="68.3" y2="1082" stroke="#000" stroke-width="1.4"/><text transform="translate(63.3,1085.3) scale(0.96,1)" class="t" text-anchor="end">0</text><line x1="64.9" y1="1051.33" x2="68.3" y2="1051.33" stroke="#000" stroke-width="1.4"/><text transform="translate(63.3,1054.62) scale(0.96,1)" class="t" text-anchor="end">10</text><line x1="64.9" y1="1020.65" x2="68.3" y2="1020.65" stroke="#000" stroke-width="1.4"/><text transform="translate(63.3,1023.95) scale(0.96,1)" class="t" text-anchor="end">20</text><line x1="64.9" y1="989.97" x2="68.3" y2="989.97" stroke="#000" stroke-width="1.4"/><text transform="translate(63.3,993.27) scale(0.96,1)" class="t" text-anchor="end">30</text><line x1="64.9" y1="959.3" x2="68.3" y2="959.3" stroke="#000" stroke-width="1.4"/><text transform="translate(63.3,962.6) scale(0.96,1)" class="t" text-anchor="end">40</text><line x1="68.3" y1="1082" x2="68.3" y2="1085.4" stroke="#000" stroke-width="1.4"/><text transform="translate(68.45,1095.4) scale(0.96,1)" class="t" text-anchor="middle">500</text><line x1="99.02" y1="1082" x2="99.02" y2="1085.4" stroke="#000" stroke-width="1.4"/><text transform="translate(99.17,1095.4) scale(0.96,1)" class="t" text-anchor="middle">1000</text><line x1="129.73" y1="1082" x2="129.73" y2="1085.4" stroke="#000" stroke-width="1.4"/><text transform="translate(129.88,1095.4) scale(0.96,1)" class="t" text-anchor="middle">1500</text><line x1="160.45" y1="1082" x2="160.45" y2="1085.4" stroke="#000" stroke-width="1.4"/><text transform="translate(160.6,1095.4) scale(0.96,1)" class="t" text-anchor="middle">2000</text><line x1="191.17" y1="1082" x2="191.17" y2="1085.4" stroke="#000" stroke-width="1.4"/><text transform="translate(191.32,1095.4) scale(0.96,1)" class="t" text-anchor="middle">2500</text><line x1="221.88" y1="1082" x2="221.88" y2="1085.4" stroke="#000" stroke-width="1.4"/><text transform="translate(222.03,1095.4) scale(0.96,1)" class="t" text-anchor="middle">3000</text><line x1="252.6" y1="1082" x2="252.6" y2="1085.4" stroke="#000" stroke-width="1.4"/><text transform="translate(252.75,1095.4) scale(0.96,1)" class="t" text-anchor="middle">3500</text><text transform="translate(45.75,1020.9) rotate(-90) scale(1.03,1)" class="ti" text-anchor="middle">Insulin (µU/mL)</text><text transform="translate(160.1,1108.2) scale(1.000,1)" class="ti" text-anchor="middle">Lymphocytes ( /µL)</text><text transform="translate(82.6,974.6) scale(1.0,1)" class="r">r = 0.54</text><text transform="translate(82.6,987.4) scale(1.0,1)" class="r">p = 0.008</text><line x1="109.25" y1="1082" x2="231.4" y2="1011.9" stroke="#383838" stroke-width="1.45"/><rect x="90" y="1071.25" width="5" height="5" fill="#fff" stroke="#151515" stroke-width="1.3"/><rect x="103" y="1069.25" width="5" height="5" fill="#fff" stroke="#151515" stroke-width="1.3"/><rect x="115.5" y="1065" width="5" height="5" fill="#fff" stroke="#151515" stroke-width="1.3"/><rect x="133.25" y="1072" width="5" height="5" fill="#fff" stroke="#151515" stroke-width="1.3"/><rect x="142.5" y="1073" width="5" height="5" fill="#fff" stroke="#151515" stroke-width="1.3"/><rect x="145.5" y="1070" width="5" height="5" fill="#fff" stroke="#151515" stroke-width="1.3"/><rect x="150" y="1073" width="5" height="5" fill="#fff" stroke="#151515" stroke-width="1.3"/><rect x="152" y="1060" width="5" height="5" fill="#fff" stroke="#151515" stroke-width="1.3"/><rect x="152.5" y="1067.5" width="5" height="5" fill="#fff" stroke="#151515" stroke-width="1.3"/><rect x="152.2" y="1069" width="5" height="5" fill="#fff" stroke="#151515" stroke-width="1.3"/><rect x="184.9" y="1070.1" width="5" height="5" fill="#fff" stroke="#151515" stroke-width="1.3"/><rect x="132.25" y="1040.25" width="5.5" height="5.5" fill="#000"/><rect x="142.25" y="1047.25" width="5.5" height="5.5" fill="#000"/><rect x="139.25" y="1054.75" width="5.5" height="5.5" fill="#000"/><rect x="137.25" y="1059.75" width="5.5" height="5.5" fill="#000"/><rect x="142.75" y="1058" width="5.5" height="5.5" fill="#000"/><rect x="165.25" y="1041" width="5.5" height="5.5" fill="#000"/><rect x="167.75" y="1052.25" width="5.5" height="5.5" fill="#000"/><rect x="228.65" y="980.35" width="5.5" height="5.5" fill="#000"/><rect x="205.45" y="996.45" width="5.5" height="5.5" fill="#000"/><rect x="181.75" y="1012.75" width="5.5" height="5.5" fill="#000"/><rect x="212.45" y="1031.15" width="5.5" height="5.5" fill="#000"/><rect x="176.85" y="1043.45" width="5.5" height="5.5" fill="#000"/></g>
<g><path d="M326.4 959.3V1080.9H511" fill="none" stroke="#000" stroke-width="1.4"/><line x1="323" y1="1080.9" x2="326.4" y2="1080.9" stroke="#000" stroke-width="1.4"/><text transform="translate(321.4,1084.2) scale(0.96,1)" class="t" text-anchor="end">0</text><line x1="323" y1="1050.5" x2="326.4" y2="1050.5" stroke="#000" stroke-width="1.4"/><text transform="translate(321.4,1053.8) scale(0.96,1)" class="t" text-anchor="end">10</text><line x1="323" y1="1020.1" x2="326.4" y2="1020.1" stroke="#000" stroke-width="1.4"/><text transform="translate(321.4,1023.4) scale(0.96,1)" class="t" text-anchor="end">20</text><line x1="323" y1="989.7" x2="326.4" y2="989.7" stroke="#000" stroke-width="1.4"/><text transform="translate(321.4,993) scale(0.96,1)" class="t" text-anchor="end">30</text><line x1="323" y1="959.3" x2="326.4" y2="959.3" stroke="#000" stroke-width="1.4"/><text transform="translate(321.4,962.6) scale(0.96,1)" class="t" text-anchor="end">40</text><line x1="326.4" y1="1080.9" x2="326.4" y2="1084.3" stroke="#000" stroke-width="1.4"/><text transform="translate(326.55,1094.3) scale(0.96,1)" class="t" text-anchor="middle">100</text><line x1="363.32" y1="1080.9" x2="363.32" y2="1084.3" stroke="#000" stroke-width="1.4"/><text transform="translate(363.47,1094.3) scale(0.96,1)" class="t" text-anchor="middle">200</text><line x1="400.24" y1="1080.9" x2="400.24" y2="1084.3" stroke="#000" stroke-width="1.4"/><text transform="translate(400.39,1094.3) scale(0.96,1)" class="t" text-anchor="middle">300</text><line x1="437.16" y1="1080.9" x2="437.16" y2="1084.3" stroke="#000" stroke-width="1.4"/><text transform="translate(437.31,1094.3) scale(0.96,1)" class="t" text-anchor="middle">400</text><line x1="474.08" y1="1080.9" x2="474.08" y2="1084.3" stroke="#000" stroke-width="1.4"/><text transform="translate(474.23,1094.3) scale(0.96,1)" class="t" text-anchor="middle">500</text><line x1="511" y1="1080.9" x2="511" y2="1084.3" stroke="#000" stroke-width="1.4"/><text transform="translate(511.15,1094.3) scale(0.96,1)" class="t" text-anchor="middle">600</text><text transform="translate(304.8,1020.25) rotate(-90) scale(1.03,1)" class="ti" text-anchor="middle">Insulin (µU/mL)</text><text transform="translate(418.25,1108.2) scale(1.009,1)" class="ti" text-anchor="middle">Monocytes ( /µL)</text><text transform="translate(338.75,971) scale(1.0,1)" class="r">r = 0.57</text><text transform="translate(338.75,983.8) scale(1.0,1)" class="r">p = 0.005</text><line x1="363.75" y1="1077" x2="493.6" y2="1020.8" stroke="#383838" stroke-width="1.45"/><rect x="360" y="1059.25" width="5" height="5" fill="#fff" stroke="#151515" stroke-width="1.3"/><rect x="360" y="1072.5" width="5" height="5" fill="#fff" stroke="#151515" stroke-width="1.3"/><rect x="372" y="1068.25" width="5" height="5" fill="#fff" stroke="#151515" stroke-width="1.3"/><rect x="375.75" y="1070.5" width="5" height="5" fill="#fff" stroke="#151515" stroke-width="1.3"/><rect x="389.25" y="1066.75" width="5" height="5" fill="#fff" stroke="#151515" stroke-width="1.3"/><rect x="396.75" y="1067.5" width="5" height="5" fill="#fff" stroke="#151515" stroke-width="1.3"/><rect x="401.25" y="1072" width="5" height="5" fill="#fff" stroke="#151515" stroke-width="1.3"/><rect x="405" y="1068.75" width="5" height="5" fill="#fff" stroke="#151515" stroke-width="1.3"/><rect x="408.25" y="1064.5" width="5" height="5" fill="#fff" stroke="#151515" stroke-width="1.3"/><rect x="409.25" y="1071.25" width="5" height="5" fill="#fff" stroke="#151515" stroke-width="1.3"/><rect x="467.4" y="1069.5" width="5" height="5" fill="#fff" stroke="#151515" stroke-width="1.3"/><rect x="386.5" y="1042.75" width="5.5" height="5.5" fill="#000"/><rect x="404.75" y="1039.25" width="5.5" height="5.5" fill="#000"/><rect x="419.25" y="1046.55" width="5.5" height="5.5" fill="#000"/><rect x="394" y="1057.75" width="5.5" height="5.5" fill="#000"/><rect x="427.25" y="1059.25" width="5.5" height="5.5" fill="#000"/><rect x="437.75" y="1051.75" width="5.5" height="5.5" fill="#000"/><rect x="456.55" y="979.95" width="5.5" height="5.5" fill="#000"/><rect x="463.35" y="995.85" width="5.5" height="5.5" fill="#000"/><rect x="490.85" y="1012.05" width="5.5" height="5.5" fill="#000"/><rect x="468.55" y="1030.75" width="5.5" height="5.5" fill="#000"/><rect x="444.95" y="1040.25" width="5.5" height="5.5" fill="#000"/><rect x="444.25" y="1053.55" width="5.5" height="5.5" fill="#000"/></g>
<g><line x1="72" y1="1245.6" x2="232" y2="1245.6" stroke="#e6e0e6" stroke-width="1" stroke-dasharray="1 2"/><path d="M68.9 1129.1V1251.5H253.2" fill="none" stroke="#000" stroke-width="1.4"/><line x1="65.5" y1="1251.5" x2="68.9" y2="1251.5" stroke="#000" stroke-width="1.4"/><text transform="translate(63.9,1254.8) scale(0.96,1)" class="t" text-anchor="end">0</text><line x1="65.5" y1="1220.9" x2="68.9" y2="1220.9" stroke="#000" stroke-width="1.4"/><text transform="translate(63.9,1224.2) scale(0.96,1)" class="t" text-anchor="end">2</text><line x1="65.5" y1="1190.3" x2="68.9" y2="1190.3" stroke="#000" stroke-width="1.4"/><text transform="translate(63.9,1193.6) scale(0.96,1)" class="t" text-anchor="end">4</text><line x1="65.5" y1="1159.7" x2="68.9" y2="1159.7" stroke="#000" stroke-width="1.4"/><text transform="translate(63.9,1163) scale(0.96,1)" class="t" text-anchor="end">6</text><line x1="65.5" y1="1129.1" x2="68.9" y2="1129.1" stroke="#000" stroke-width="1.4"/><text transform="translate(63.9,1132.4) scale(0.96,1)" class="t" text-anchor="end">8</text><line x1="68.9" y1="1251.5" x2="68.9" y2="1254.9" stroke="#000" stroke-width="1.4"/><text transform="translate(69.05,1264.9) scale(0.96,1)" class="t" text-anchor="middle">2000</text><line x1="105.76" y1="1251.5" x2="105.76" y2="1254.9" stroke="#000" stroke-width="1.4"/><text transform="translate(105.91,1264.9) scale(0.96,1)" class="t" text-anchor="middle">4000</text><line x1="142.62" y1="1251.5" x2="142.62" y2="1254.9" stroke="#000" stroke-width="1.4"/><text transform="translate(142.77,1264.9) scale(0.96,1)" class="t" text-anchor="middle">6000</text><line x1="179.48" y1="1251.5" x2="179.48" y2="1254.9" stroke="#000" stroke-width="1.4"/><text transform="translate(179.63,1264.9) scale(0.96,1)" class="t" text-anchor="middle">8000</text><line x1="216.34" y1="1251.5" x2="216.34" y2="1254.9" stroke="#000" stroke-width="1.4"/><text transform="translate(216.49,1264.9) scale(0.96,1)" class="t" text-anchor="middle">10000</text><line x1="253.2" y1="1251.5" x2="253.2" y2="1254.9" stroke="#000" stroke-width="1.4"/><text transform="translate(253.35,1264.9) scale(0.96,1)" class="t" text-anchor="middle">12000</text><text transform="translate(51.4,1190.75) rotate(-90) scale(0.985,1)" class="ti" text-anchor="middle">HOMA-IR</text><text transform="translate(160.45,1277.5) scale(0.997,1)" class="ti" text-anchor="middle">Leukocytes ( /µL)</text><text transform="translate(81.25,1142) scale(1.0,1)" class="r">r = 0.62</text><text transform="translate(81.25,1154.8) scale(1.0,1)" class="r">p = 0.002</text><line x1="98" y1="1240" x2="245.8" y2="1188.7" stroke="#383838" stroke-width="1.45"/><rect x="118.75" y="1225.75" width="5" height="5" fill="#fff" stroke="#151515" stroke-width="1.3"/><rect x="123.25" y="1232" width="5" height="5" fill="#fff" stroke="#151515" stroke-width="1.3"/><rect x="94.5" y="1240" width="5" height="5" fill="#fff" stroke="#151515" stroke-width="1.3"/><rect x="105.5" y="1238.25" width="5" height="5" fill="#fff" stroke="#151515" stroke-width="1.3"/><rect x="118.75" y="1243" width="5" height="5" fill="#fff" stroke="#151515" stroke-width="1.3"/><rect x="130" y="1237" width="5" height="5" fill="#fff" stroke="#151515" stroke-width="1.3"/><rect x="129.5" y="1240" width="5" height="5" fill="#fff" stroke="#151515" stroke-width="1.3"/><rect x="137.5" y="1238.25" width="5" height="5" fill="#fff" stroke="#151515" stroke-width="1.3"/><rect x="149.5" y="1240" width="5" height="5" fill="#fff" stroke="#151515" stroke-width="1.3"/><rect x="233.6" y="1238.4" width="5" height="5" fill="#fff" stroke="#151515" stroke-width="1.3"/><rect x="135.5" y="1209.25" width="5.5" height="5.5" fill="#000"/><rect x="160.5" y="1195.5" width="5.5" height="5.5" fill="#000"/><rect x="160.5" y="1209.25" width="5.5" height="5.5" fill="#000"/><rect x="128.5" y="1218" width="5.5" height="5.5" fill="#000"/><rect x="105.25" y="1224.25" width="5.5" height="5.5" fill="#000"/><rect x="123.5" y="1226" width="5.5" height="5.5" fill="#000"/><rect x="156.75" y="1224.25" width="5.5" height="5.5" fill="#000"/><rect x="167.25" y="1221.85" width="5.5" height="5.5" fill="#000"/><rect x="201.85" y="1143.55" width="5.5" height="5.5" fill="#000"/><rect x="181.05" y="1167.95" width="5.5" height="5.5" fill="#000"/><rect x="188.55" y="1178.95" width="5.5" height="5.5" fill="#000"/><rect x="242.85" y="1207.45" width="5.5" height="5.5" fill="#000"/></g>
<g><line x1="330" y1="1245.3" x2="484" y2="1245.3" stroke="#e6e0e6" stroke-width="1" stroke-dasharray="1 2"/><path d="M326.5 1129.6V1251.3H511.5" fill="none" stroke="#000" stroke-width="1.4"/><line x1="323.1" y1="1251.3" x2="326.5" y2="1251.3" stroke="#000" stroke-width="1.4"/><text transform="translate(321.5,1254.6) scale(0.96,1)" class="t" text-anchor="end">0</text><line x1="323.1" y1="1220.88" x2="326.5" y2="1220.88" stroke="#000" stroke-width="1.4"/><text transform="translate(321.5,1224.17) scale(0.96,1)" class="t" text-anchor="end">2</text><line x1="323.1" y1="1190.45" x2="326.5" y2="1190.45" stroke="#000" stroke-width="1.4"/><text transform="translate(321.5,1193.75) scale(0.96,1)" class="t" text-anchor="end">4</text><line x1="323.1" y1="1160.02" x2="326.5" y2="1160.02" stroke="#000" stroke-width="1.4"/><text transform="translate(321.5,1163.32) scale(0.96,1)" class="t" text-anchor="end">6</text><line x1="323.1" y1="1129.6" x2="326.5" y2="1129.6" stroke="#000" stroke-width="1.4"/><text transform="translate(321.5,1132.9) scale(0.96,1)" class="t" text-anchor="end">8</text><line x1="326.5" y1="1251.3" x2="326.5" y2="1254.7" stroke="#000" stroke-width="1.4"/><text transform="translate(326.65,1264.7) scale(0.96,1)" class="t" text-anchor="middle">1000</text><line x1="372.75" y1="1251.3" x2="372.75" y2="1254.7" stroke="#000" stroke-width="1.4"/><text transform="translate(372.9,1264.7) scale(0.96,1)" class="t" text-anchor="middle">3000</text><line x1="419" y1="1251.3" x2="419" y2="1254.7" stroke="#000" stroke-width="1.4"/><text transform="translate(419.15,1264.7) scale(0.96,1)" class="t" text-anchor="middle">5000</text><line x1="465.25" y1="1251.3" x2="465.25" y2="1254.7" stroke="#000" stroke-width="1.4"/><text transform="translate(465.4,1264.7) scale(0.96,1)" class="t" text-anchor="middle">7000</text><line x1="511.5" y1="1251.3" x2="511.5" y2="1254.7" stroke="#000" stroke-width="1.4"/><text transform="translate(511.65,1264.7) scale(0.96,1)" class="t" text-anchor="middle">9000</text><text transform="translate(310.1,1190.75) rotate(-90) scale(0.985,1)" class="ti" text-anchor="middle">HOMA-IR</text><text transform="translate(417.35,1277.5) scale(1.000,1)" class="ti" text-anchor="middle">Neutrophils ( /µL)</text><text transform="translate(338.75,1141.5) scale(1.0,1)" class="r">r = 0.55</text><text transform="translate(338.75,1154.3) scale(1.0,1)" class="r">p = 0.007</text><line x1="348.75" y1="1233.25" x2="508" y2="1194" stroke="#383838" stroke-width="1.45"/><rect x="360.75" y="1225.75" width="5" height="5" fill="#fff" stroke="#151515" stroke-width="1.3"/><rect x="351.25" y="1240" width="5" height="5" fill="#fff" stroke="#151515" stroke-width="1.3"/><rect x="357" y="1238.25" width="5" height="5" fill="#fff" stroke="#151515" stroke-width="1.3"/><rect x="360.5" y="1243.25" width="5" height="5" fill="#fff" stroke="#151515" stroke-width="1.3"/><rect x="372" y="1237" width="5" height="5" fill="#fff" stroke="#151515" stroke-width="1.3"/><rect x="375.5" y="1232" width="5" height="5" fill="#fff" stroke="#151515" stroke-width="1.3"/><rect x="374.5" y="1240" width="5" height="5" fill="#fff" stroke="#151515" stroke-width="1.3"/><rect x="373" y="1238" width="5" height="5" fill="#fff" stroke="#151515" stroke-width="1.3"/><rect x="405" y="1240" width="5" height="5" fill="#fff" stroke="#151515" stroke-width="1.3"/><rect x="485.8" y="1238.6" width="5" height="5" fill="#fff" stroke="#151515" stroke-width="1.3"/><rect x="427.75" y="1143.5" width="5.5" height="5.5" fill="#000"/><rect x="411.5" y="1168" width="5.5" height="5.5" fill="#000"/><rect x="428.5" y="1178.75" width="5.5" height="5.5" fill="#000"/><rect x="382.25" y="1195.5" width="5.5" height="5.5" fill="#000"/><rect x="369.25" y="1209.25" width="5.5" height="5.5" fill="#000"/><rect x="415.25" y="1209.25" width="5.5" height="5.5" fill="#000"/><rect x="374.25" y="1218" width="5.5" height="5.5" fill="#000"/><rect x="346" y="1224.25" width="5.5" height="5.5" fill="#000"/><rect x="368.5" y="1226" width="5.5" height="5.5" fill="#000"/><rect x="407.25" y="1224.25" width="5.5" height="5.5" fill="#000"/><rect x="408.5" y="1221.75" width="5.5" height="5.5" fill="#000"/><rect x="504.55" y="1207.65" width="5.5" height="5.5" fill="#000"/></g>
<g><path d="M68.5 1324.6V1447.2H252.6" fill="none" stroke="#000" stroke-width="1.4"/><line x1="65.1" y1="1447.2" x2="68.5" y2="1447.2" stroke="#000" stroke-width="1.4"/><text transform="translate(63.5,1450.5) scale(0.96,1)" class="t" text-anchor="end">0</text><line x1="65.1" y1="1416.55" x2="68.5" y2="1416.55" stroke="#000" stroke-width="1.4"/><text transform="translate(63.5,1419.85) scale(0.96,1)" class="t" text-anchor="end">2</text><line x1="65.1" y1="1385.9" x2="68.5" y2="1385.9" stroke="#000" stroke-width="1.4"/><text transform="translate(63.5,1389.2) scale(0.96,1)" class="t" text-anchor="end">4</text><line x1="65.1" y1="1355.25" x2="68.5" y2="1355.25" stroke="#000" stroke-width="1.4"/><text transform="translate(63.5,1358.55) scale(0.96,1)" class="t" text-anchor="end">6</text><line x1="65.1" y1="1324.6" x2="68.5" y2="1324.6" stroke="#000" stroke-width="1.4"/><text transform="translate(63.5,1327.9) scale(0.96,1)" class="t" text-anchor="end">8</text><line x1="68.5" y1="1447.2" x2="68.5" y2="1450.6" stroke="#000" stroke-width="1.4"/><text transform="translate(68.65,1460.6) scale(0.96,1)" class="t" text-anchor="middle">500</text><line x1="99.18" y1="1447.2" x2="99.18" y2="1450.6" stroke="#000" stroke-width="1.4"/><text transform="translate(99.33,1460.6) scale(0.96,1)" class="t" text-anchor="middle">1000</text><line x1="129.87" y1="1447.2" x2="129.87" y2="1450.6" stroke="#000" stroke-width="1.4"/><text transform="translate(130.02,1460.6) scale(0.96,1)" class="t" text-anchor="middle">1500</text><line x1="160.55" y1="1447.2" x2="160.55" y2="1450.6" stroke="#000" stroke-width="1.4"/><text transform="translate(160.7,1460.6) scale(0.96,1)" class="t" text-anchor="middle">2000</text><line x1="191.23" y1="1447.2" x2="191.23" y2="1450.6" stroke="#000" stroke-width="1.4"/><text transform="translate(191.38,1460.6) scale(0.96,1)" class="t" text-anchor="middle">2500</text><line x1="221.92" y1="1447.2" x2="221.92" y2="1450.6" stroke="#000" stroke-width="1.4"/><text transform="translate(222.07,1460.6) scale(0.96,1)" class="t" text-anchor="middle">3000</text><line x1="252.6" y1="1447.2" x2="252.6" y2="1450.6" stroke="#000" stroke-width="1.4"/><text transform="translate(252.75,1460.6) scale(0.96,1)" class="t" text-anchor="middle">3500</text><text transform="translate(51.15,1386.4) rotate(-90) scale(0.985,1)" class="ti" text-anchor="middle">HOMA-IR</text><text transform="translate(154.25,1475.6) scale(0.992,1)" class="ti" text-anchor="middle">Lymphocytes ( /µL)</text><text transform="translate(80,1338) scale(1.0,1)" class="r">r = 0.56</text><text transform="translate(80,1350.8) scale(1.0,1)" class="r">p = 0.005</text><line x1="109.25" y1="1447" x2="231.4" y2="1373.4" stroke="#383838" stroke-width="1.45"/><rect x="89.5" y="1435" width="5" height="5" fill="#fff" stroke="#151515" stroke-width="1.3"/><rect x="103" y="1433.75" width="5" height="5" fill="#fff" stroke="#151515" stroke-width="1.3"/><rect x="115.5" y="1427.5" width="5" height="5" fill="#fff" stroke="#151515" stroke-width="1.3"/><rect x="133.25" y="1435" width="5" height="5" fill="#fff" stroke="#151515" stroke-width="1.3"/><rect x="142" y="1438.75" width="5" height="5" fill="#fff" stroke="#151515" stroke-width="1.3"/><rect x="145.5" y="1435" width="5" height="5" fill="#fff" stroke="#151515" stroke-width="1.3"/><rect x="150" y="1438.75" width="5" height="5" fill="#fff" stroke="#151515" stroke-width="1.3"/><rect x="152" y="1421.25" width="5" height="5" fill="#fff" stroke="#151515" stroke-width="1.3"/><rect x="152" y="1432.5" width="5" height="5" fill="#fff" stroke="#151515" stroke-width="1.3"/><rect x="152.8" y="1434" width="5" height="5" fill="#fff" stroke="#151515" stroke-width="1.3"/><rect x="185.2" y="1433.9" width="5" height="5" fill="#fff" stroke="#151515" stroke-width="1.3"/><rect x="132.25" y="1404.25" width="5.5" height="5.5" fill="#000"/><rect x="142.25" y="1413.5" width="5.5" height="5.5" fill="#000"/><rect x="137.25" y="1421" width="5.5" height="5.5" fill="#000"/><rect x="139.75" y="1420.5" width="5.5" height="5.5" fill="#000"/><rect x="143.5" y="1419.75" width="5.5" height="5.5" fill="#000"/><rect x="165.25" y="1403" width="5.5" height="5.5" fill="#000"/><rect x="167.75" y="1417.25" width="5.5" height="5.5" fill="#000"/><rect x="228.65" y="1338.85" width="5.5" height="5.5" fill="#000"/><rect x="205.85" y="1363.25" width="5.5" height="5.5" fill="#000"/><rect x="181.75" y="1374.25" width="5.5" height="5.5" fill="#000"/><rect x="212.45" y="1390.75" width="5.5" height="5.5" fill="#000"/><rect x="176.85" y="1404.45" width="5.5" height="5.5" fill="#000"/></g>
<g><path d="M326.5 1324.6V1446.3H511" fill="none" stroke="#000" stroke-width="1.4"/><line x1="323.1" y1="1446.3" x2="326.5" y2="1446.3" stroke="#000" stroke-width="1.4"/><text transform="translate(321.5,1449.6) scale(0.96,1)" class="t" text-anchor="end">0</text><line x1="323.1" y1="1415.88" x2="326.5" y2="1415.88" stroke="#000" stroke-width="1.4"/><text transform="translate(321.5,1419.17) scale(0.96,1)" class="t" text-anchor="end">2</text><line x1="323.1" y1="1385.45" x2="326.5" y2="1385.45" stroke="#000" stroke-width="1.4"/><text transform="translate(321.5,1388.75) scale(0.96,1)" class="t" text-anchor="end">4</text><line x1="323.1" y1="1355.02" x2="326.5" y2="1355.02" stroke="#000" stroke-width="1.4"/><text transform="translate(321.5,1358.32) scale(0.96,1)" class="t" text-anchor="end">6</text><line x1="323.1" y1="1324.6" x2="326.5" y2="1324.6" stroke="#000" stroke-width="1.4"/><text transform="translate(321.5,1327.9) scale(0.96,1)" class="t" text-anchor="end">8</text><line x1="326.5" y1="1446.3" x2="326.5" y2="1449.7" stroke="#000" stroke-width="1.4"/><text transform="translate(326.65,1459.7) scale(0.96,1)" class="t" text-anchor="middle">100</text><line x1="363.4" y1="1446.3" x2="363.4" y2="1449.7" stroke="#000" stroke-width="1.4"/><text transform="translate(363.55,1459.7) scale(0.96,1)" class="t" text-anchor="middle">200</text><line x1="400.3" y1="1446.3" x2="400.3" y2="1449.7" stroke="#000" stroke-width="1.4"/><text transform="translate(400.45,1459.7) scale(0.96,1)" class="t" text-anchor="middle">300</text><line x1="437.2" y1="1446.3" x2="437.2" y2="1449.7" stroke="#000" stroke-width="1.4"/><text transform="translate(437.35,1459.7) scale(0.96,1)" class="t" text-anchor="middle">400</text><line x1="474.1" y1="1446.3" x2="474.1" y2="1449.7" stroke="#000" stroke-width="1.4"/><text transform="translate(474.25,1459.7) scale(0.96,1)" class="t" text-anchor="middle">500</text><line x1="511" y1="1446.3" x2="511" y2="1449.7" stroke="#000" stroke-width="1.4"/><text transform="translate(511.15,1459.7) scale(0.96,1)" class="t" text-anchor="middle">600</text><text transform="translate(309.7,1386.2) rotate(-90) scale(0.985,1)" class="ti" text-anchor="middle">HOMA-IR</text><text transform="translate(418.25,1473) scale(1.009,1)" class="ti" text-anchor="middle">Monocytes ( /µL)</text><text transform="translate(338.75,1336) scale(1.0,1)" class="r">r = 0.60</text><text transform="translate(338.75,1348.8) scale(1.0,1)" class="r">p = 0.003</text><line x1="363" y1="1442.5" x2="494" y2="1384" stroke="#383838" stroke-width="1.45"/><rect x="360" y="1421.25" width="5" height="5" fill="#fff" stroke="#151515" stroke-width="1.3"/><rect x="360" y="1438.25" width="5" height="5" fill="#fff" stroke="#151515" stroke-width="1.3"/><rect x="372" y="1433.75" width="5" height="5" fill="#fff" stroke="#151515" stroke-width="1.3"/><rect x="375.75" y="1435.5" width="5" height="5" fill="#fff" stroke="#151515" stroke-width="1.3"/><rect x="389.25" y="1432.5" width="5" height="5" fill="#fff" stroke="#151515" stroke-width="1.3"/><rect x="396.75" y="1433.75" width="5" height="5" fill="#fff" stroke="#151515" stroke-width="1.3"/><rect x="401.25" y="1438.25" width="5" height="5" fill="#fff" stroke="#151515" stroke-width="1.3"/><rect x="405" y="1435" width="5" height="5" fill="#fff" stroke="#151515" stroke-width="1.3"/><rect x="408.25" y="1427.5" width="5" height="5" fill="#fff" stroke="#151515" stroke-width="1.3"/><rect x="409.25" y="1435" width="5" height="5" fill="#fff" stroke="#151515" stroke-width="1.3"/><rect x="467.4" y="1433.9" width="5" height="5" fill="#fff" stroke="#151515" stroke-width="1.3"/><rect x="386" y="1404.75" width="5.5" height="5.5" fill="#000"/><rect x="404.75" y="1404.75" width="5.5" height="5.5" fill="#000"/><rect x="419.25" y="1413.5" width="5.5" height="5.5" fill="#000"/><rect x="394" y="1419.75" width="5.5" height="5.5" fill="#000"/><rect x="427.25" y="1421" width="5.5" height="5.5" fill="#000"/><rect x="437.75" y="1416.75" width="5.5" height="5.5" fill="#000"/><rect x="456.95" y="1338.85" width="5.5" height="5.5" fill="#000"/><rect x="463.75" y="1363.65" width="5.5" height="5.5" fill="#000"/><rect x="491.25" y="1374.25" width="5.5" height="5.5" fill="#000"/><rect x="468.55" y="1390.75" width="5.5" height="5.5" fill="#000"/><rect x="444.95" y="1403.45" width="5.5" height="5.5" fill="#000"/><rect x="444.25" y="1419.65" width="5.5" height="5.5" fill="#000"/></g>
<text x="11.0" y="24.3" class="L">A</text>
<text x="11.4" y="366.0" class="L">B</text>
<text x="12.2" y="763.7" class="L">C</text>
<text x="12.6" y="1109.8" class="L">D</text>
</svg>
</body></html>
